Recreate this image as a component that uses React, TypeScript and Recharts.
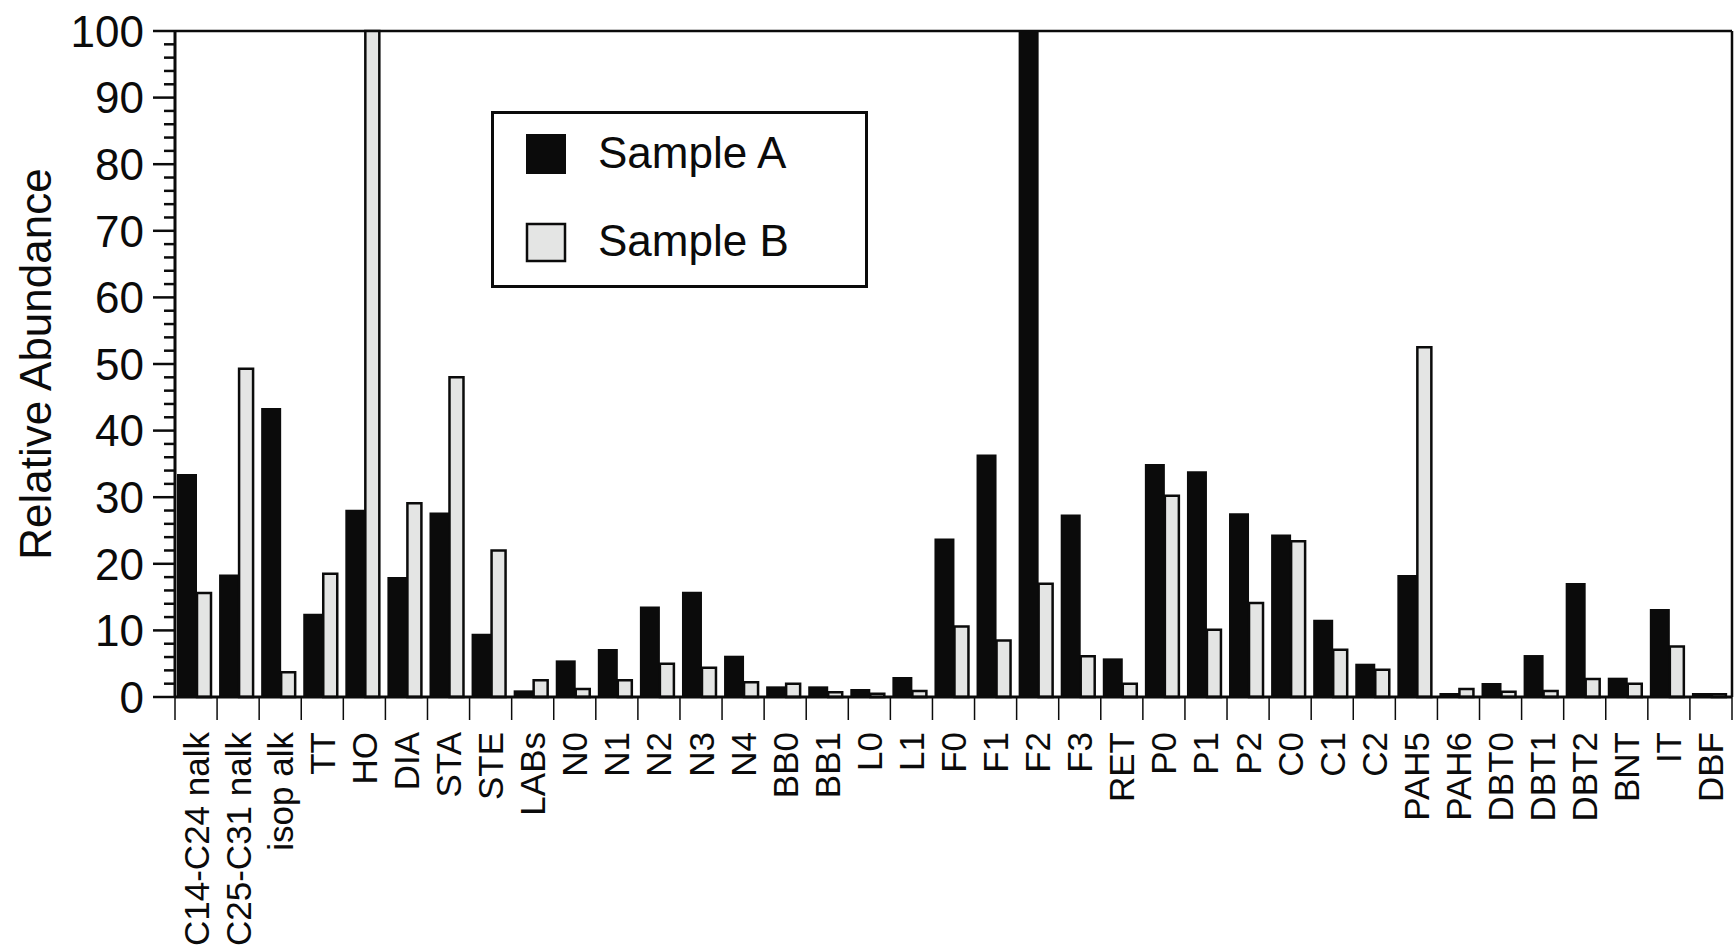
import React from "react";
import { Bar, BarChart, CartesianGrid, Legend, XAxis, YAxis } from "recharts";

const categories = [
  "C14-C24 nalk", "C25-C31 nalk", "isop alk", "TT", "HO", "DIA", "STA", "STE", "LABs",
  "N0", "N1", "N2", "N3", "N4", "BB0", "BB1", "L0", "L1", "F0", "F1", "F2", "F3", "RET",
  "P0", "P1", "P2", "C0", "C1", "C2", "PAH5", "PAH6", "DBT0", "DBT1", "DBT2", "BNT", "IT", "DBF",
];

const sampleA = [
  33.5, 18.4, 43.4, 12.5, 28.1, 18.0, 27.7, 9.5, 1.0, 5.5, 7.2, 13.6, 15.8, 6.2, 1.6, 1.6,
  1.2, 3.0, 23.8, 36.4, 100, 27.4, 5.8, 35.0, 33.9, 27.6, 24.4, 11.6, 5.0, 18.3, 0.6, 2.1,
  6.3, 17.1, 2.9, 13.2, 0.6,
];

const sampleB = [
  15.6, 49.3, 3.7, 18.5, 100, 29.1, 48.0, 22.0, 2.5, 1.2, 2.5, 5.0, 4.4, 2.2, 2.0, 0.7,
  0.5, 0.9, 10.6, 8.5, 17.0, 6.1, 2.0, 30.2, 10.1, 14.1, 23.4, 7.1, 4.1, 52.5, 1.2, 0.8,
  0.9, 2.7, 2.0, 7.6, 0.4,
];

const yMajorTicks = [0, 10, 20, 30, 40, 50, 60, 70, 80, 90, 100];
const yMinorStep = 2;

const FONT = '"Liberation Sans", Arial, Helvetica, sans-serif';
const INK = "#0b0b0b";
const LIGHT = "#e4e5e4";

const CHART_W = 1734;
const CHART_H = 948;
const Y_AXIS_W = 175;
const X_AXIS_H = 251;
const RIGHT_PAD = 2;
const BAND = (CHART_W - Y_AXIS_W - RIGHT_PAD) / categories.length;

const data = categories.map((name, i) => ({ name, a: sampleA[i], b: sampleB[i] }));

const yTicks = yMajorTicks.flatMap((v, i) =>
  i === yMajorTicks.length - 1
    ? [v]
    : [v, v + yMinorStep, v + 2 * yMinorStep, v + 3 * yMinorStep, v + 4 * yMinorStep]
);

const YTick = (props: any) => {
  const { x, y, payload } = props;
  const major = payload.value % 10 === 0;
  return (
    <g>
      <line x1={x - (major ? 22 : 11)} x2={x} y1={y} y2={y} stroke={INK} strokeWidth={2.5} />
      {major && (
        <text x={x - 31} y={y} dy="0.36em" textAnchor="end" fontSize={44} fontFamily={FONT} fill={INK}>
          {payload.value}
        </text>
      )}
    </g>
  );
};

const XTick = (props: any) => {
  const { x, y, payload, index } = props;
  const last = index === categories.length - 1;
  return (
    <g>
      <line x1={x - BAND / 2} x2={x - BAND / 2} y1={y} y2={y + 23} stroke={INK} strokeWidth={1.5} />
      {last && <line x1={x + BAND / 2} x2={x + BAND / 2} y1={y} y2={y + 23} stroke={INK} strokeWidth={1.5} />}
      <text
        transform={`translate(${x + 12.5}, ${y + 35}) rotate(-90)`}
        textAnchor="end"
        fontSize={35}
        fontFamily={FONT}
        fill={INK}
      >
        {payload.value}
      </text>
    </g>
  );
};

const YLabel = (props: any) => {
  const { viewBox } = props;
  const cx = viewBox.x + 51;
  const cy = viewBox.y + viewBox.height / 2;
  return (
    <text
      transform={`translate(${cx}, ${cy}) rotate(-90)`}
      textAnchor="middle"
      fontSize={44}
      fontFamily={FONT}
      fill={INK}
    >
      Relative Abundance
    </text>
  );
};

const LegendBox = () => (
  <svg width={377} height={177} style={{ display: "block" }}>
    <rect x={1.5} y={1.5} width={374} height={174} fill="#fff" stroke={INK} strokeWidth={3} />
    <rect x={35} y={23} width={40} height={40} fill={INK} />
    <rect x={36} y={113} width={38} height={37} fill={LIGHT} stroke={INK} strokeWidth={2.5} />
    <text x={107} y={57} fontSize={44} fontFamily={FONT} fill={INK}>
      Sample A
    </text>
    <text x={107} y={145} fontSize={44} fontFamily={FONT} fill={INK}>
      Sample B
    </text>
  </svg>
);

export default function App() {
  return (
    <div style={{ position: "absolute", left: 0, top: 0, width: CHART_W, height: CHART_H, background: "#fff" }}>
      <BarChart
        width={CHART_W}
        height={CHART_H}
        data={data}
        margin={{ top: 31, right: RIGHT_PAD, bottom: 0, left: 0 }}
        barGap={0}
      >
        {/* plot frame: top and right edges */}
        <CartesianGrid
          stroke={INK}
          strokeWidth={2.5}
          horizontalCoordinatesGenerator={({ offset }: any) => [offset.top]}
          verticalCoordinatesGenerator={({ offset }: any) => [offset.left + offset.width]}
        />
        <XAxis
          dataKey="name"
          interval={0}
          height={X_AXIS_H}
          tickSize={0}
          tickMargin={0}
          tickLine={false}
          axisLine={{ stroke: INK, strokeWidth: 3 }}
          tick={<XTick />}
        />
        <YAxis
          width={Y_AXIS_W}
          domain={[0, 100]}
          ticks={yTicks}
          interval={0}
          tickSize={0}
          tickMargin={0}
          tickLine={false}
          axisLine={{ stroke: INK, strokeWidth: 3 }}
          tick={<YTick />}
          label={<YLabel />}
        />
        <Legend
          layout="vertical"
          align="center"
          verticalAlign="middle"
          wrapperStyle={{ left: 491, top: 111, width: 377, height: 177 }}
          content={<LegendBox />}
        />
        <Bar dataKey="a" name="Sample A" fill={INK} barSize={20} isAnimationActive={false} />
        <Bar
          dataKey="b"
          name="Sample B"
          fill={LIGHT}
          stroke={INK}
          strokeWidth={2.5}
          barSize={14}
          isAnimationActive={false}
        />
        <Bar dataKey="gap" fill="none" barSize={5} legendType="none" isAnimationActive={false} />
      </BarChart>
    </div>
  );
}
